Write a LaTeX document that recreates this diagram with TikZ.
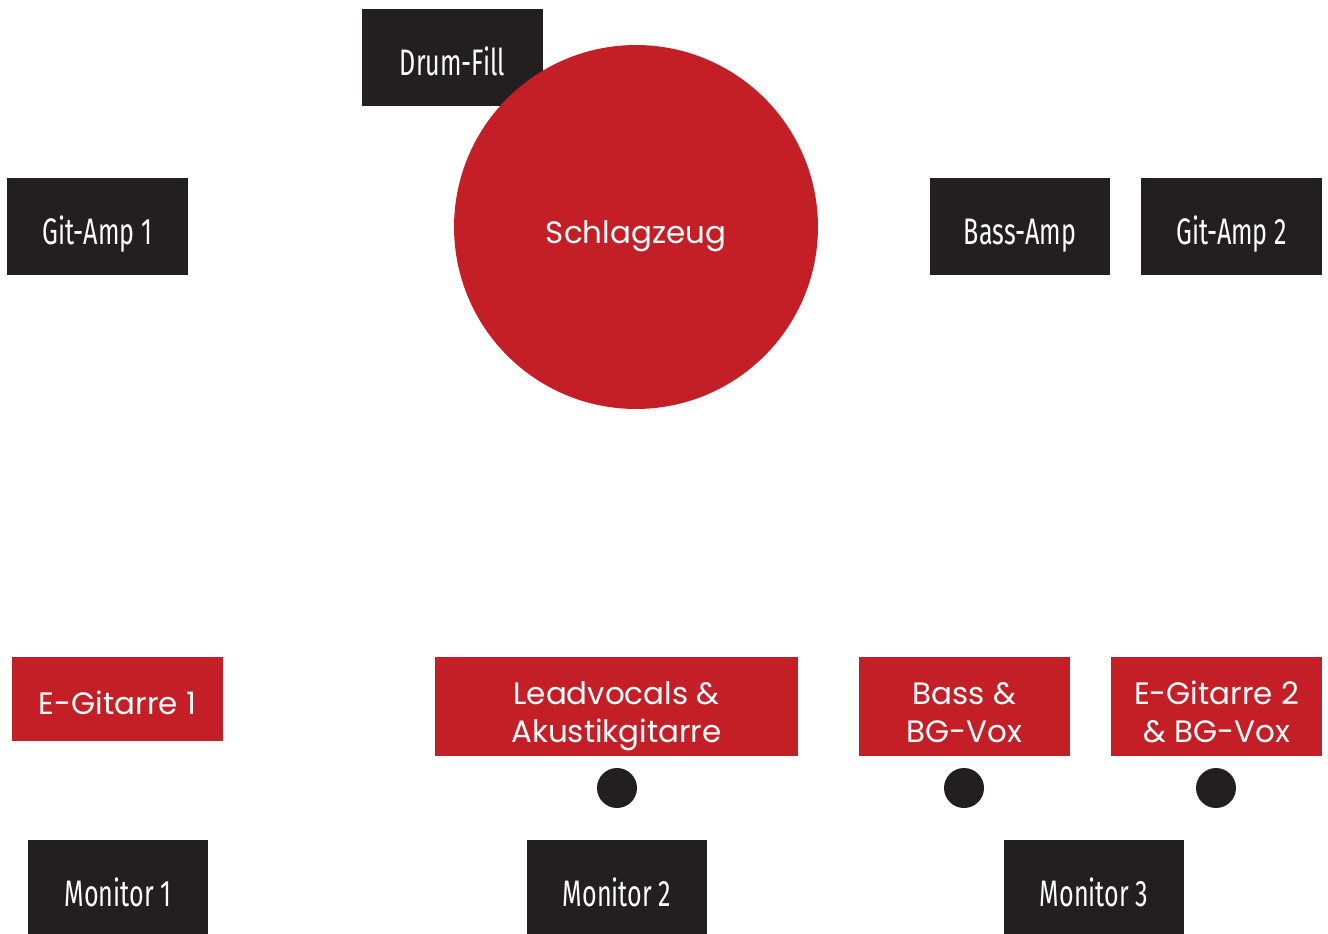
\documentclass[tikz,border=0pt]{standalone}
\usepackage{fontspec}
\setmainfont{Poppins}
\newfontfamily\condfont[FakeStretch=0.68]{Fira Sans}
\definecolor{stageblack}{HTML}{231F20}
\definecolor{stagered}{HTML}{C41F26}
\tikzset{
  ampbox/.style={shape=rectangle,fill=stageblack,text=white,minimum width=3.62cm,minimum height=1.94cm,text height=0.72cm,text depth=0pt,font=\condfont\fontsize{21}{24}\selectfont},
  playerbox/.style={shape=rectangle,fill=stagered,text=white,align=center,minimum height=1.98cm,text height=0.62cm,text depth=0pt,font=\fontsize{17.6}{21.6}\selectfont},
  twoline/.style={text height=1.42cm,inner ysep=0pt},
  monitordot/.style={shape=circle,fill=stageblack,minimum size=0.8cm,inner sep=0pt}
}
\begin{document}
\begin{tikzpicture}[x=0.02cm,y=-0.02cm]
        \useasboundingbox (0,0) rectangle (1328,933);
        % back line
        \node[ampbox] (drumfill) at (452.5,57.5) {Drum-Fill};
        \node[ampbox] (gitamp1) at (97.5,226.5) {Git-Amp 1};
        \node[ampbox,minimum width=3.6cm] (bassamp) at (1020,226.5) {Bass-Amp};
        \node[ampbox] (gitamp2) at (1231.5,226.5) {Git-Amp 2};
        \node[shape=circle,fill=stagered,text=white,minimum size=7.28cm,text height=0.64cm,text depth=0pt,font=\fontsize{17.6}{21}\selectfont] (drums) at (636,227) {Schlagzeug};

        % front line
        \node[playerbox,minimum width=4.22cm,minimum height=1.68cm] (egit1) at (117.5,699) {E-Gitarre 1};
        \node[playerbox,twoline,minimum width=7.26cm] (lead) at (616.5,706.5) {Leadvocals \&\\Akustikgitarre};
        \node[playerbox,twoline,minimum width=4.22cm] (bass) at (964.5,706.5) {Bass \&\\BG-Vox};
        \node[playerbox,twoline,minimum width=4.22cm] (egit2) at (1216.5,706.5) {E-Gitarre 2\\\& BG-Vox};

        \node[monitordot] (leaddot) at (617,788) {};
        \node[monitordot] (bassdot) at (964,788) {};
        \node[monitordot] (egit2dot) at (1216,788) {};

        % monitors
        \node[ampbox] (monitor1) at (118,888.5) {Monitor 1};
        \node[ampbox] (monitor2) at (617,888.5) {Monitor 2};
        \node[ampbox] (monitor3) at (1094,888.5) {Monitor 3};
\end{tikzpicture}
\end{document}
